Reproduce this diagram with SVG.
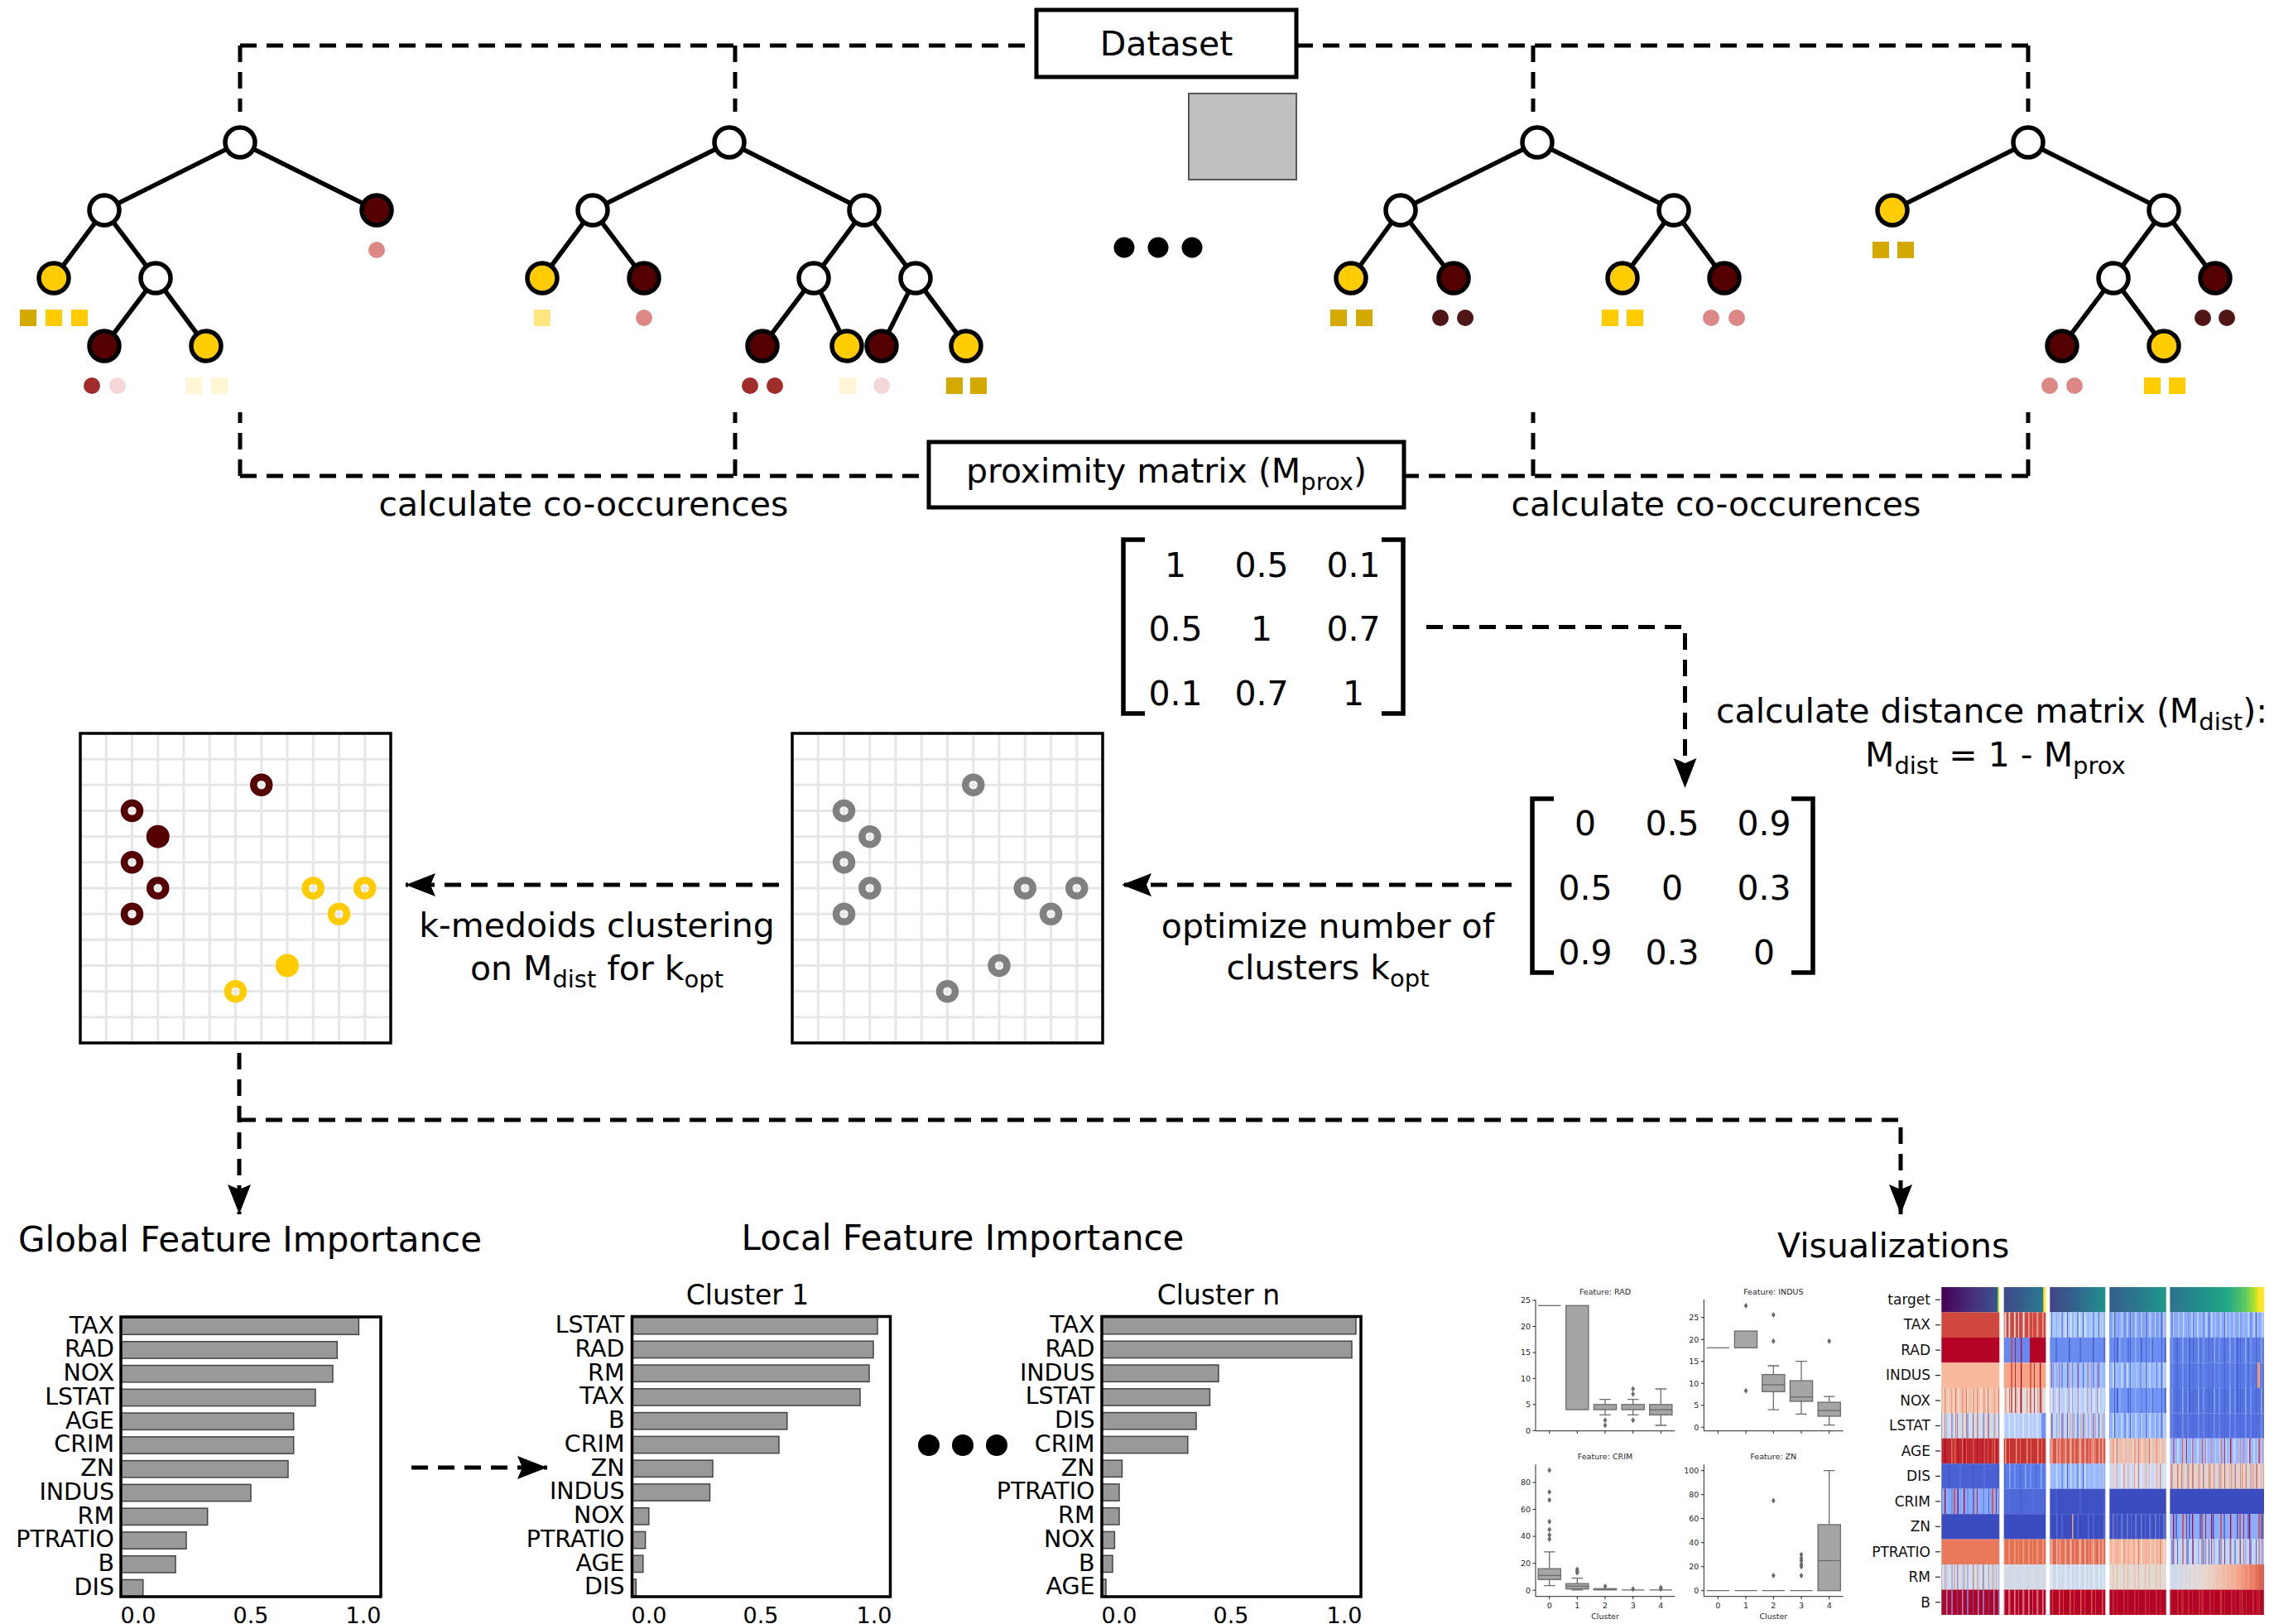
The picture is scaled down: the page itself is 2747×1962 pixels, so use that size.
<svg xmlns="http://www.w3.org/2000/svg" width="2747" height="1962" viewBox="0 0 2747 1962">
<style>
text{font-family:"DejaVu Sans",Verdana,sans-serif;fill:#000}
.big{font-size:41px}
.ttl{font-size:42px}
.mid{text-anchor:middle}
.dash{fill:none;stroke:#000;stroke-width:5;stroke-dasharray:20 12}
.edge{stroke:#000;stroke-width:5.5}
.nw{fill:#fff;stroke:#000;stroke-width:5.5}
.ny{fill:#FFCC00;stroke:#000;stroke-width:5.5}
.nd{fill:#550000;stroke:#000;stroke-width:5.5}
.box{fill:#fff;stroke:#000;stroke-width:5}
.brk{fill:none;stroke:#000;stroke-width:5.5}
.grid{stroke:#E6E6E6;stroke-width:3}
.frame{fill:none;stroke:#000;stroke-width:3.5}
.rd{fill:none;stroke:#550000;stroke-width:8.5}
.ry{fill:none;stroke:#FFCC00;stroke-width:8.5}
.rg{fill:none;stroke:#808080;stroke-width:8.5}
.bar{fill:#999;stroke:#444;stroke-width:1.5}
.bl{font-size:28.5px;text-anchor:end}
.tk{font-size:27px;text-anchor:middle}
.ct{font-size:33px;text-anchor:middle}
.bp{fill:#A5A5A5;stroke:#6B6B6B;stroke-width:1.3}
.bw{fill:none;stroke:#6B6B6B;stroke-width:1.3}
.sp{fill:none;stroke:#262626;stroke-width:1}
.sy{font-size:9.5px;fill:#262626;text-anchor:end}
.sx{font-size:9.5px;fill:#262626;text-anchor:middle}
.hl{font-size:17px;text-anchor:end;fill:#111}
.ht{stroke:#222;stroke-width:1.2}
.dot{fill:#000}
</style>
<defs>
<marker id="ah" markerUnits="userSpaceOnUse" markerWidth="40" markerHeight="32" viewBox="0 -16 40 32" refX="36" refY="0" orient="auto">
<path d="M0,-14 L36,0 L0,14 L6,0 Z" fill="#000"/>
</marker>
<path id="dia" d="M0,-3.5 L2.4,0 L0,3.5 L-2.4,0 Z" fill="#6B6B6B"/>
<pattern id="pL" width="17" height="40" patternUnits="userSpaceOnUse"><rect x="2" width="1.6" height="40" fill="#fff" fill-opacity=".5"/><rect x="7" width="1" height="40" fill="#fff" fill-opacity=".35"/><rect x="12" width="2.4" height="40" fill="#fff" fill-opacity=".4"/></pattern>
<pattern id="pR" width="23" height="40" patternUnits="userSpaceOnUse"><rect x="3" width="1.3" height="40" fill="#B40426"/><rect x="14" width="2" height="40" fill="#D24B40" fill-opacity=".85"/><rect x="19" width=".8" height="40" fill="#B40426"/></pattern>
<pattern id="pB" width="19" height="40" patternUnits="userSpaceOnUse"><rect x="1" width="2" height="40" fill="#6F92F3"/><rect x="8" width="1" height="40" fill="#4A63D3"/><rect x="14" width="1.5" height="40" fill="#8DB0FE"/></pattern>
<pattern id="pS" width="13" height="40" patternUnits="userSpaceOnUse"><rect x="4" width="1.5" height="40" fill="#F4987A"/><rect x="9" width="1" height="40" fill="#E7745B"/></pattern>
<pattern id="pG" width="11" height="40" patternUnits="userSpaceOnUse"><rect x="2" width="1.5" height="40" fill="#DDDCDC"/><rect x="7" width="1" height="40" fill="#C5D6F2"/></pattern>
<pattern id="pD" width="29" height="40" patternUnits="userSpaceOnUse"><rect x="5" width="1.5" height="40" fill="#4358CB"/><rect x="18" width="2" height="40" fill="#5470DE"/></pattern>
<linearGradient id="t1"><stop offset="0" stop-color="#440154"/><stop offset=".5" stop-color="#472C7A"/><stop offset=".95" stop-color="#3B528B"/><stop offset=".97" stop-color="#21918C"/><stop offset=".985" stop-color="#FDE725"/><stop offset="1" stop-color="#FDE725"/></linearGradient>
<linearGradient id="t2"><stop offset="0" stop-color="#3F4889"/><stop offset=".6" stop-color="#31688E"/><stop offset=".93" stop-color="#2A788E"/><stop offset=".95" stop-color="#FDE725"/><stop offset="1" stop-color="#FDE725"/></linearGradient>
<linearGradient id="t3"><stop offset="0" stop-color="#414487"/><stop offset=".6" stop-color="#2E6F8E"/><stop offset="1" stop-color="#21918C"/></linearGradient>
<linearGradient id="t4"><stop offset="0" stop-color="#355F8D"/><stop offset=".6" stop-color="#287D8E"/><stop offset="1" stop-color="#1F9A8A"/></linearGradient>
<linearGradient id="t5"><stop offset="0" stop-color="#2C728E"/><stop offset=".35" stop-color="#21918C"/><stop offset=".62" stop-color="#22A884"/><stop offset=".8" stop-color="#5EC962"/><stop offset=".9" stop-color="#B5DE2B"/><stop offset=".95" stop-color="#FDE725"/><stop offset="1" stop-color="#FDE725"/></linearGradient>
<linearGradient id="rm5"><stop offset="0" stop-color="#CBD8EE"/><stop offset=".35" stop-color="#E5D8D1"/><stop offset=".7" stop-color="#F4A98D"/><stop offset=".9" stop-color="#E8765C"/><stop offset="1" stop-color="#D55042"/></linearGradient>
</defs>
<rect width="2747" height="1962" fill="#fff"/>

<g id="connectors">
<path class="dash" d="M290,55 H1252"/>
<path class="dash" d="M290,55 V135"/>
<path class="dash" d="M888,55 V135"/>
<path class="dash" d="M2450,55 H1566"/>
<path class="dash" d="M2450,55 V135"/>
<path class="dash" d="M1852,55 V135"/>
<path class="dash" d="M290,575 H1122"/>
<path class="dash" d="M290,575 V498"/>
<path class="dash" d="M888,575 V498"/>
<path class="dash" d="M2450,575 H1696"/>
<path class="dash" d="M2450,575 V498"/>
<path class="dash" d="M1852,575 V498"/>
<path class="dash" d="M1723,757.5 H2035.5 V952" marker-end="url(#ah)"/>
<path class="dash" d="M1826,1069 H1355" marker-end="url(#ah)"/>
<path class="dash" d="M941,1069 H490" marker-end="url(#ah)"/>
<path class="dash" d="M289,1272 V1467" marker-end="url(#ah)"/>
<path class="dash" d="M289,1353 H2296 V1467" marker-end="url(#ah)"/>
<path class="dash" d="M497,1773 H661" marker-end="url(#ah)"/>
</g>

<g id="dataset">
<rect class="box" x="1252" y="12" width="314" height="81"/>
<text class="big mid" x="1409" y="67">Dataset</text>
<rect x="1436" y="113" width="130" height="104" fill="#C0C0C0" stroke="#555" stroke-width="2"/>
</g>

<g id="tree1">
<line class="edge" x1="290" y1="172" x2="126" y2="254"/>
<line class="edge" x1="290" y1="172" x2="455" y2="254"/>
<line class="edge" x1="126" y1="254" x2="65" y2="336"/>
<line class="edge" x1="126" y1="254" x2="188" y2="336"/>
<line class="edge" x1="188" y1="336" x2="126" y2="418"/>
<line class="edge" x1="188" y1="336" x2="249" y2="418"/>
<circle class="nw" cx="290" cy="172" r="18"/>
<circle class="nw" cx="126" cy="254" r="18"/>
<circle class="nd" cx="455" cy="254" r="18"/>
<circle class="ny" cx="65" cy="336" r="18"/>
<circle class="nw" cx="188" cy="336" r="18"/>
<circle class="nd" cx="126" cy="418" r="18"/>
<circle class="ny" cx="249" cy="418" r="18"/>
<circle cx="455" cy="302" r="10" fill="#DE8787"/>
<rect x="24" y="374" width="20" height="20" fill="#D4AA00"/>
<rect x="55" y="374" width="20" height="20" fill="#FFCC00"/>
<rect x="86" y="374" width="20" height="20" fill="#FFCC00"/>
<circle cx="111" cy="466" r="10" fill="#A02C2C"/>
<circle cx="142" cy="466" r="10" fill="#F4D7D7"/>
<rect x="224" y="456" width="20" height="20" fill="#FFF6D5"/>
<rect x="255" y="456" width="20" height="20" fill="#FFF6D5"/>
</g>

<g id="tree2">
<line class="edge" x1="881" y1="172" x2="716" y2="254"/>
<line class="edge" x1="881" y1="172" x2="1044" y2="254"/>
<line class="edge" x1="716" y1="254" x2="655" y2="336"/>
<line class="edge" x1="716" y1="254" x2="778" y2="336"/>
<line class="edge" x1="1044" y1="254" x2="983" y2="336"/>
<line class="edge" x1="1044" y1="254" x2="1106" y2="336"/>
<line class="edge" x1="983" y1="336" x2="921" y2="418"/>
<line class="edge" x1="983" y1="336" x2="1023" y2="418"/>
<line class="edge" x1="1106" y1="336" x2="1065" y2="418"/>
<line class="edge" x1="1106" y1="336" x2="1167" y2="418"/>
<circle class="nw" cx="881" cy="172" r="18"/>
<circle class="nw" cx="716" cy="254" r="18"/>
<circle class="nw" cx="1044" cy="254" r="18"/>
<circle class="ny" cx="655" cy="336" r="18"/>
<circle class="nd" cx="778" cy="336" r="18"/>
<circle class="nw" cx="983" cy="336" r="18"/>
<circle class="nw" cx="1106" cy="336" r="18"/>
<circle class="nd" cx="921" cy="418" r="18"/>
<circle class="ny" cx="1023" cy="418" r="18"/>
<circle class="nd" cx="1065" cy="418" r="18"/>
<circle class="ny" cx="1167" cy="418" r="18"/>
<rect x="645" y="374" width="20" height="20" fill="#FFE680"/>
<circle cx="778" cy="384" r="10" fill="#DE8787"/>
<circle cx="906" cy="466" r="10" fill="#A02C2C"/>
<circle cx="936" cy="466" r="10" fill="#A02C2C"/>
<rect x="1014" y="456" width="20" height="20" fill="#FFF6D5"/>
<circle cx="1065" cy="466" r="10" fill="#F4D7D7"/>
<rect x="1143" y="456" width="20" height="20" fill="#D4AA00"/>
<rect x="1172" y="456" width="20" height="20" fill="#D4AA00"/>
</g>

<g id="ellipsis-top">
<circle class="dot" cx="1358" cy="299" r="12.5"/>
<circle class="dot" cx="1399" cy="299" r="12.5"/>
<circle class="dot" cx="1440" cy="299" r="12.5"/>
</g>

<g id="tree3">
<line class="edge" x1="1857" y1="172" x2="1692" y2="254"/>
<line class="edge" x1="1857" y1="172" x2="2022" y2="254"/>
<line class="edge" x1="1692" y1="254" x2="1632" y2="336"/>
<line class="edge" x1="1692" y1="254" x2="1756" y2="336"/>
<line class="edge" x1="2022" y1="254" x2="1960" y2="336"/>
<line class="edge" x1="2022" y1="254" x2="2083" y2="336"/>
<circle class="nw" cx="1857" cy="172" r="18"/>
<circle class="nw" cx="1692" cy="254" r="18"/>
<circle class="nw" cx="2022" cy="254" r="18"/>
<circle class="ny" cx="1632" cy="336" r="18"/>
<circle class="nd" cx="1756" cy="336" r="18"/>
<circle class="ny" cx="1960" cy="336" r="18"/>
<circle class="nd" cx="2083" cy="336" r="18"/>
<rect x="1607" y="374" width="20" height="20" fill="#D4AA00"/>
<rect x="1638" y="374" width="20" height="20" fill="#D4AA00"/>
<circle cx="1740" cy="384" r="10" fill="#501616"/>
<circle cx="1770" cy="384" r="10" fill="#501616"/>
<rect x="1935" y="374" width="20" height="20" fill="#FFCC00"/>
<rect x="1965" y="374" width="20" height="20" fill="#FFCC00"/>
<circle cx="2067" cy="384" r="10" fill="#DE8787"/>
<circle cx="2098" cy="384" r="10" fill="#DE8787"/>
</g>

<g id="tree4">
<line class="edge" x1="2450" y1="172" x2="2286" y2="254"/>
<line class="edge" x1="2450" y1="172" x2="2614" y2="254"/>
<line class="edge" x1="2614" y1="254" x2="2553" y2="336"/>
<line class="edge" x1="2614" y1="254" x2="2676" y2="336"/>
<line class="edge" x1="2553" y1="336" x2="2491" y2="418"/>
<line class="edge" x1="2553" y1="336" x2="2614" y2="418"/>
<circle class="nw" cx="2450" cy="172" r="18"/>
<circle class="ny" cx="2286" cy="254" r="18"/>
<circle class="nw" cx="2614" cy="254" r="18"/>
<circle class="nw" cx="2553" cy="336" r="18"/>
<circle class="nd" cx="2676" cy="336" r="18"/>
<circle class="nd" cx="2491" cy="418" r="18"/>
<circle class="ny" cx="2614" cy="418" r="18"/>
<rect x="2262" y="292" width="20" height="20" fill="#D4AA00"/>
<rect x="2292" y="292" width="20" height="20" fill="#D4AA00"/>
<circle cx="2661" cy="384" r="10" fill="#501616"/>
<circle cx="2690" cy="384" r="10" fill="#501616"/>
<circle cx="2476" cy="466" r="10" fill="#DE8787"/>
<circle cx="2506" cy="466" r="10" fill="#DE8787"/>
<rect x="2590" y="456" width="20" height="20" fill="#FFCC00"/>
<rect x="2620" y="456" width="20" height="20" fill="#FFCC00"/>
</g>

<g id="labels-cooc">
<text class="big mid" x="705" y="623">calculate co-occurences</text>
<text class="big mid" x="2073" y="623">calculate co-occurences</text>
</g>

<g id="proximity">
<rect class="box" x="1122" y="534" width="574" height="79"/>
<text class="big mid" x="1409" y="583">proximity matrix (M<tspan font-size="29" dy="9">prox</tspan><tspan dy="-9">)</tspan></text>
</g>

<g id="matrix-prox">
<path class="brk" d="M1383,652 H1357 V862 H1383"/>
<path class="brk" d="M1669,652 H1695 V862 H1669"/>
<text class="big mid" x="1420" y="697">1</text>
<text class="big mid" x="1524" y="697">0.5</text>
<text class="big mid" x="1635" y="697">0.1</text>
<text class="big mid" x="1420" y="774">0.5</text>
<text class="big mid" x="1524" y="774">1</text>
<text class="big mid" x="1635" y="774">0.7</text>
<text class="big mid" x="1420" y="852">0.1</text>
<text class="big mid" x="1524" y="852">0.7</text>
<text class="big mid" x="1635" y="852">1</text>
</g>

<g id="distance-label">
<text class="big" x="2073" y="873">calculate distance matrix (M<tspan font-size="29" dy="9">dist</tspan><tspan dy="-9">):</tspan></text>
<text class="big" x="2253" y="926">M<tspan font-size="29" dy="9">dist</tspan><tspan dy="-9"> = 1 - M</tspan><tspan font-size="29" dy="9">prox</tspan></text>
</g>

<g id="matrix-dist">
<path class="brk" d="M1877,965 H1851 V1175 H1877"/>
<path class="brk" d="M2164,965 H2190 V1175 H2164"/>
<text class="big mid" x="1915" y="1009">0</text>
<text class="big mid" x="2020" y="1009">0.5</text>
<text class="big mid" x="2131" y="1009">0.9</text>
<text class="big mid" x="1915" y="1087">0.5</text>
<text class="big mid" x="2020" y="1087">0</text>
<text class="big mid" x="2131" y="1087">0.3</text>
<text class="big mid" x="1915" y="1165">0.9</text>
<text class="big mid" x="2020" y="1165">0.3</text>
<text class="big mid" x="2131" y="1165">0</text>
</g>

<g id="label-optimize">
<text class="big mid" x="1604" y="1133">optimize number of</text>
<text class="big mid" x="1604" y="1183">clusters k<tspan font-size="29" dy="9">opt</tspan></text>
</g>

<g id="label-kmedoids">
<text class="big mid" x="721" y="1132">k-medoids clustering</text>
<text class="big mid" x="721" y="1184">on M<tspan font-size="29" dy="9">dist</tspan><tspan dy="-9"> for k</tspan><tspan font-size="29" dy="9">opt</tspan></text>
</g>

<g id="scatter-clustered">
<g class="grid">
<path d="M128.25,886V1260M159.5,886V1260M190.75,886V1260M222,886V1260M253.25,886V1260M284.5,886V1260M315.75,886V1260M347,886V1260M378.25,886V1260M409.5,886V1260M440.75,886V1260"/>
<path d="M97,917.2H472M97,948.3H472M97,979.5H472M97,1010.7H472M97,1041.8H472M97,1073H472M97,1104.2H472M97,1135.3H472M97,1166.5H472M97,1197.7H472M97,1228.8H472"/>
</g>
<rect class="frame" x="97" y="886" width="375" height="374"/>
<circle class="rd" cx="315.75" cy="948.3" r="9.5"/>
<circle class="rd" cx="159.5" cy="979.5" r="9.5"/>
<circle cx="190.75" cy="1010.7" r="14" fill="#550000"/>
<circle class="rd" cx="159.5" cy="1041.8" r="9.5"/>
<circle class="rd" cx="190.75" cy="1073" r="9.5"/>
<circle class="rd" cx="159.5" cy="1104.2" r="9.5"/>
<circle class="ry" cx="378.25" cy="1073" r="9.5"/>
<circle class="ry" cx="440.75" cy="1073" r="9.5"/>
<circle class="ry" cx="409.5" cy="1104.2" r="9.5"/>
<circle cx="347" cy="1166.5" r="14" fill="#FFCC00"/>
<circle class="ry" cx="284.5" cy="1197.7" r="9.5"/>
</g>

<g id="scatter-raw">
<g class="grid">
<path d="M988.25,886V1260M1019.5,886V1260M1050.75,886V1260M1082,886V1260M1113.25,886V1260M1144.5,886V1260M1175.75,886V1260M1207,886V1260M1238.25,886V1260M1269.5,886V1260M1300.75,886V1260"/>
<path d="M957,917.2H1332M957,948.3H1332M957,979.5H1332M957,1010.7H1332M957,1041.8H1332M957,1073H1332M957,1104.2H1332M957,1135.3H1332M957,1166.5H1332M957,1197.7H1332M957,1228.8H1332"/>
</g>
<rect class="frame" x="957" y="886" width="375" height="374"/>
<circle class="rg" cx="1175.75" cy="948.3" r="9.5"/>
<circle class="rg" cx="1019.5" cy="979.5" r="9.5"/>
<circle class="rg" cx="1050.75" cy="1010.7" r="9.5"/>
<circle class="rg" cx="1019.5" cy="1041.8" r="9.5"/>
<circle class="rg" cx="1050.75" cy="1073" r="9.5"/>
<circle class="rg" cx="1019.5" cy="1104.2" r="9.5"/>
<circle class="rg" cx="1238.25" cy="1073" r="9.5"/>
<circle class="rg" cx="1300.75" cy="1073" r="9.5"/>
<circle class="rg" cx="1269.5" cy="1104.2" r="9.5"/>
<circle class="rg" cx="1207" cy="1166.5" r="9.5"/>
<circle class="rg" cx="1144.5" cy="1197.7" r="9.5"/>
</g>

<g id="titles">
<text class="ttl mid" x="302" y="1512">Global Feature Importance</text>
<text class="ttl mid" x="1163" y="1510">Local Feature Importance</text>
<text class="big" x="2147" y="1519">Visualizations</text>
</g>

<g id="global-fi" transform="translate(146,1592)">
<rect class="bar" x="0" y="0" width="287.4" height="20.3"/>
<rect class="bar" x="0" y="28.77" width="261.3" height="20.3"/>
<rect class="bar" x="0" y="57.54" width="256" height="20.3"/>
<rect class="bar" x="0" y="86.31" width="235" height="20.3"/>
<rect class="bar" x="0" y="115.08" width="208.7" height="20.3"/>
<rect class="bar" x="0" y="143.85" width="208.7" height="20.3"/>
<rect class="bar" x="0" y="172.62" width="202" height="20.3"/>
<rect class="bar" x="0" y="201.39" width="157" height="20.3"/>
<rect class="bar" x="0" y="230.16" width="104.7" height="20.3"/>
<rect class="bar" x="0" y="258.93" width="79" height="20.3"/>
<rect class="bar" x="0" y="287.7" width="66" height="20.3"/>
<rect class="bar" x="0" y="316.47" width="26.8" height="20.3"/>
<rect class="frame" x="0" y="-1" width="314" height="338"/>
<text class="bl" x="-8" y="18.5">TAX</text>
<text class="bl" x="-8" y="47.27">RAD</text>
<text class="bl" x="-8" y="76.04">NOX</text>
<text class="bl" x="-8" y="104.81">LSTAT</text>
<text class="bl" x="-8" y="133.58">AGE</text>
<text class="bl" x="-8" y="162.35">CRIM</text>
<text class="bl" x="-8" y="191.12">ZN</text>
<text class="bl" x="-8" y="219.89">INDUS</text>
<text class="bl" x="-8" y="248.66">RM</text>
<text class="bl" x="-8" y="277.43">PTRATIO</text>
<text class="bl" x="-8" y="306.2">B</text>
<text class="bl" x="-8" y="334.97">DIS</text>
<text class="tk" x="21" y="369">0.0</text>
<text class="tk" x="157" y="369">0.5</text>
<text class="tk" x="293" y="369">1.0</text>
</g>

<g id="cluster1-fi">
<text class="ct" x="903" y="1576">Cluster 1</text>
<g transform="translate(763.5,1591.5)">
<rect class="bar" x="0" y="0" width="296.5" height="20.3"/>
<rect class="bar" x="0" y="28.77" width="291.5" height="20.3"/>
<rect class="bar" x="0" y="57.54" width="286.5" height="20.3"/>
<rect class="bar" x="0" y="86.31" width="275.5" height="20.3"/>
<rect class="bar" x="0" y="115.08" width="187.3" height="20.3"/>
<rect class="bar" x="0" y="143.85" width="177.5" height="20.3"/>
<rect class="bar" x="0" y="172.62" width="97.5" height="20.3"/>
<rect class="bar" x="0" y="201.39" width="94" height="20.3"/>
<rect class="bar" x="0" y="230.16" width="20.3" height="20.3"/>
<rect class="bar" x="0" y="258.93" width="16.1" height="20.3"/>
<rect class="bar" x="0" y="287.7" width="13.3" height="20.3"/>
<rect class="bar" x="0" y="316.47" width="4.9" height="20.3"/>
<rect class="frame" x="0" y="-1" width="312" height="338.5"/>
<text class="bl" x="-9" y="18.5">LSTAT</text>
<text class="bl" x="-9" y="47.27">RAD</text>
<text class="bl" x="-9" y="76.04">RM</text>
<text class="bl" x="-9" y="104.81">TAX</text>
<text class="bl" x="-9" y="133.58">B</text>
<text class="bl" x="-9" y="162.35">CRIM</text>
<text class="bl" x="-9" y="191.12">ZN</text>
<text class="bl" x="-9" y="219.89">INDUS</text>
<text class="bl" x="-9" y="248.66">NOX</text>
<text class="bl" x="-9" y="277.43">PTRATIO</text>
<text class="bl" x="-9" y="306.2">AGE</text>
<text class="bl" x="-9" y="334.97">DIS</text>
<text class="tk" x="20.5" y="369.5">0.0</text>
<text class="tk" x="155.5" y="369.5">0.5</text>
<text class="tk" x="292.5" y="369.5">1.0</text>
</g>
</g>

<g id="ellipsis-bottom">
<circle class="dot" cx="1122" cy="1746" r="13"/>
<circle class="dot" cx="1163" cy="1746" r="13"/>
<circle class="dot" cx="1204" cy="1746" r="13"/>
</g>

<g id="clustern-fi">
<text class="ct" x="1472" y="1576">Cluster n</text>
<g transform="translate(1331,1591.5)">
<rect class="bar" x="0" y="0" width="307" height="20.3"/>
<rect class="bar" x="0" y="28.77" width="302" height="20.3"/>
<rect class="bar" x="0" y="57.54" width="141" height="20.3"/>
<rect class="bar" x="0" y="86.31" width="130.5" height="20.3"/>
<rect class="bar" x="0" y="115.08" width="114" height="20.3"/>
<rect class="bar" x="0" y="143.85" width="103.8" height="20.3"/>
<rect class="bar" x="0" y="172.62" width="24.5" height="20.3"/>
<rect class="bar" x="0" y="201.39" width="21" height="20.3"/>
<rect class="bar" x="0" y="230.16" width="21" height="20.3"/>
<rect class="bar" x="0" y="258.93" width="15.4" height="20.3"/>
<rect class="bar" x="0" y="287.7" width="13" height="20.3"/>
<rect class="bar" x="0" y="316.47" width="5" height="20.3"/>
<rect class="frame" x="0" y="-1" width="313" height="338.5"/>
<text class="bl" x="-8.5" y="18.5">TAX</text>
<text class="bl" x="-8.5" y="47.27">RAD</text>
<text class="bl" x="-8.5" y="76.04">INDUS</text>
<text class="bl" x="-8.5" y="104.81">LSTAT</text>
<text class="bl" x="-8.5" y="133.58">DIS</text>
<text class="bl" x="-8.5" y="162.35">CRIM</text>
<text class="bl" x="-8.5" y="191.12">ZN</text>
<text class="bl" x="-8.5" y="219.89">PTRATIO</text>
<text class="bl" x="-8.5" y="248.66">RM</text>
<text class="bl" x="-8.5" y="277.43">NOX</text>
<text class="bl" x="-8.5" y="306.2">B</text>
<text class="bl" x="-8.5" y="334.97">AGE</text>
<text class="tk" x="21" y="369.5">0.0</text>
<text class="tk" x="156" y="369.5">0.5</text>
<text class="tk" x="293" y="369.5">1.0</text>
</g>
</g>

<g id="boxplots">
<text class="sx" x="1939" y="1564">Feature: RAD</text>
<path class="sp" d="M1855,1570V1728.7H2023.3"/>
<path class="sp" d="M1851.5,1728.3H1855M1851.5,1696.85H1855M1851.5,1665.4H1855M1851.5,1634H1855M1851.5,1602.5H1855M1851.5,1571H1855M1871.7,1728.7V1732.2M1905.3,1728.7V1732.2M1939,1728.7V1732.2M1972.7,1728.7V1732.2M2006.3,1728.7V1732.2"/>
<text class="sy" x="1849" y="1731.6">0</text>
<text class="sy" x="1849" y="1700.2">5</text>
<text class="sy" x="1849" y="1668.7">10</text>
<text class="sy" x="1849" y="1637.3">15</text>
<text class="sy" x="1849" y="1605.8">20</text>
<text class="sy" x="1849" y="1574.3">25</text>
<path class="bw" d="M1858.1,1577.3H1885.3"/>
<rect class="bp" x="1891.7" y="1577.3" width="27.2" height="125.8"/>
<path class="bw" d="M1939,1690.56V1709.4M1932.2,1690.56H1945.8M1932.2,1709.4H1945.8"/>
<rect class="bp" x="1925.4" y="1696.85" width="27.2" height="6.25"/>
<use href="#dia" x="1939" y="1715.7"/><use href="#dia" x="1939" y="1722"/>
<path class="bw" d="M1972.7,1690.56V1709.4M1965.9,1690.56H1979.5M1965.9,1709.4H1979.5"/>
<rect class="bp" x="1959.1" y="1696.85" width="27.2" height="6.25"/>
<use href="#dia" x="1972.7" y="1715.7"/><use href="#dia" x="1972.7" y="1684.3"/><use href="#dia" x="1972.7" y="1678"/>
<path class="bw" d="M2006.3,1678V1722M1999.5,1678H2013.1M1999.5,1722H2013.1"/>
<rect class="bp" x="1992.7" y="1696.85" width="27.2" height="12.55"/>
<path class="bw" d="M1992.7,1703.1H2019.9"/>
<text class="sx" x="2142.3" y="1564">Feature: INDUS</text>
<path class="sp" d="M2058.3,1570V1728.7H2226.7"/>
<path class="sp" d="M2054.8,1724.3H2058.3M2054.8,1697.8H2058.3M2054.8,1671.25H2058.3M2054.8,1644.7H2058.3M2054.8,1618.2H2058.3M2054.8,1591.7H2058.3M2075.3,1728.7V1732.2M2109,1728.7V1732.2M2142.3,1728.7V1732.2M2176,1728.7V1732.2M2209.7,1728.7V1732.2"/>
<text class="sy" x="2052.3" y="1727.6">0</text>
<text class="sy" x="2052.3" y="1701.1">5</text>
<text class="sy" x="2052.3" y="1674.6">10</text>
<text class="sy" x="2052.3" y="1648">15</text>
<text class="sy" x="2052.3" y="1621.5">20</text>
<text class="sy" x="2052.3" y="1595">25</text>
<path class="bw" d="M2061.7,1628.3H2088.9"/>
<rect class="bp" x="2095.4" y="1608.1" width="27.2" height="20.2"/>
<use href="#dia" x="2109" y="1577.4"/><use href="#dia" x="2109" y="1680.3"/>
<path class="bw" d="M2142.3,1650V1703.1M2135.5,1650H2149.1M2135.5,1703.1H2149.1"/>
<rect class="bp" x="2128.7" y="1660.6" width="27.2" height="20.7"/>
<path class="bw" d="M2128.7,1672.9H2155.9"/>
<use href="#dia" x="2142.3" y="1620.3"/><use href="#dia" x="2142.3" y="1588.5"/>
<path class="bw" d="M2176,1644.7V1708.4M2169.2,1644.7H2182.8M2169.2,1708.4H2182.8"/>
<rect class="bp" x="2162.4" y="1668.1" width="27.2" height="24.9"/>
<path class="bw" d="M2162.4,1687.7H2189.6"/>
<path class="bw" d="M2209.7,1687.2V1721.6M2202.9,1687.2H2216.5M2202.9,1721.6H2216.5"/>
<rect class="bp" x="2196.1" y="1694.1" width="27.2" height="16.9"/>
<path class="bw" d="M2196.1,1704.1H2223.3"/>
<use href="#dia" x="2209.7" y="1620.3"/>
<text class="sx" x="1939" y="1763">Feature: CRIM</text>
<path class="sp" d="M1855,1769.3V1928.7H2023.3"/>
<path class="sp" d="M1851.5,1921.3H1855M1851.5,1888.7H1855M1851.5,1856.1H1855M1851.5,1823.6H1855M1851.5,1791H1855M1871.7,1928.7V1932.2M1905.3,1928.7V1932.2M1939,1928.7V1932.2M1972.7,1928.7V1932.2M2006.3,1928.7V1932.2"/>
<text class="sy" x="1849" y="1924.6">0</text>
<text class="sy" x="1849" y="1892">20</text>
<text class="sy" x="1849" y="1859.4">40</text>
<text class="sy" x="1849" y="1826.9">60</text>
<text class="sy" x="1849" y="1794.3">80</text>
<path class="bw" d="M1871.7,1874.9V1915.6M1864.9,1874.9H1878.5M1864.9,1915.6H1878.5"/>
<rect class="bp" x="1858.1" y="1895.2" width="27.2" height="13.1"/>
<path class="bw" d="M1858.1,1903.4H1885.3"/>
<use href="#dia" x="1871.7" y="1859.4"/><use href="#dia" x="1871.7" y="1854.5"/><use href="#dia" x="1871.7" y="1848"/><use href="#dia" x="1871.7" y="1838.2"/><use href="#dia" x="1871.7" y="1812.2"/><use href="#dia" x="1871.7" y="1802.4"/><use href="#dia" x="1871.7" y="1776.3"/>
<path class="bw" d="M1905.3,1906.6V1920.8M1898.5,1906.6H1912.1M1898.5,1920.8H1912.1"/>
<rect class="bp" x="1891.7" y="1913.2" width="27.2" height="6.5"/>
<path class="bw" d="M1891.7,1916.4H1918.9"/>
<use href="#dia" x="1905.3" y="1900.1"/><use href="#dia" x="1905.3" y="1898.5"/><use href="#dia" x="1905.3" y="1896.1"/>
<rect class="bp" x="1925.4" y="1919.3" width="27.2" height="1.5"/>
<use href="#dia" x="1939" y="1916.4"/>
<path class="bw" d="M1959.1,1920.9H1986.3M1992.7,1920.9H2019.9"/>
<use href="#dia" x="1972.7" y="1919.7"/><use href="#dia" x="2006.3" y="1919.7"/><use href="#dia" x="2006.3" y="1918"/>
<text class="sx" x="1871.7" y="1943">0</text>
<text class="sx" x="1905.3" y="1943">1</text>
<text class="sx" x="1939" y="1943">2</text>
<text class="sx" x="1972.7" y="1943">3</text>
<text class="sx" x="2006.3" y="1943">4</text>
<text class="sx" x="1939" y="1956">Cluster</text>
<text class="sx" x="2142.3" y="1763">Feature: ZN</text>
<path class="sp" d="M2058.3,1769.3V1928.7H2226.7"/>
<path class="sp" d="M2054.8,1921.7H2058.3M2054.8,1892.7H2058.3M2054.8,1863.7H2058.3M2054.8,1834.7H2058.3M2054.8,1805.7H2058.3M2054.8,1776.7H2058.3M2075.3,1928.7V1932.2M2109,1928.7V1932.2M2142.3,1928.7V1932.2M2176,1928.7V1932.2M2209.7,1928.7V1932.2"/>
<text class="sy" x="2052.3" y="1925">0</text>
<text class="sy" x="2052.3" y="1896">20</text>
<text class="sy" x="2052.3" y="1867">40</text>
<text class="sy" x="2052.3" y="1838">60</text>
<text class="sy" x="2052.3" y="1809">80</text>
<text class="sy" x="2052.3" y="1780">100</text>
<path class="bw" d="M2061.7,1921.7H2088.9M2095.4,1921.7H2122.6M2128.7,1921.7H2155.9M2162.4,1921.7H2189.6"/>
<use href="#dia" x="2142.3" y="1812.95"/><use href="#dia" x="2142.3" y="1903.6"/>
<use href="#dia" x="2176" y="1903.6"/><use href="#dia" x="2176" y="1892.7"/><use href="#dia" x="2176" y="1889.8"/><use href="#dia" x="2176" y="1885.45"/><use href="#dia" x="2176" y="1882.55"/><use href="#dia" x="2176" y="1878.2"/>
<path class="bw" d="M2209.7,1776.7V1841.95M2202.9,1776.7H2216.5"/>
<rect class="bp" x="2196.1" y="1841.95" width="27.2" height="79.75"/>
<path class="bw" d="M2196.1,1885.45H2223.3"/>
<text class="sx" x="2075.3" y="1943">0</text>
<text class="sx" x="2109" y="1943">1</text>
<text class="sx" x="2142.3" y="1943">2</text>
<text class="sx" x="2176" y="1943">3</text>
<text class="sx" x="2209.7" y="1943">4</text>
<text class="sx" x="2142.3" y="1956">Cluster</text>
</g>

<g id="heatmap">
<g transform="translate(0,1555)">
<rect x="2345.3" width="70" height="30.5" fill="url(#t1)"/>
<rect x="2420.7" width="50.6" height="30.5" fill="url(#t2)"/>
<rect x="2476.3" width="67" height="30.5" fill="url(#t3)"/>
<rect x="2548.3" width="68.4" height="30.5" fill="url(#t4)"/>
<rect x="2621.3" width="113.7" height="30.5" fill="url(#t5)"/>
<line class="ht" x1="2338" x2="2344" y1="15.2" y2="15.2"/><text class="hl" x="2332" y="21">target</text>
</g>
<g transform="translate(0,1585.46)">
<rect x="2345.3" width="70" height="30.5" fill="#D0473D"/>
<rect x="2420.7" width="50.6" height="30.5" fill="#D0473D"/><rect x="2420.7" width="26" height="30.5" fill="url(#pG)"/><rect x="2420.7" width="50.6" height="30.5" fill="url(#pL)"/>
<rect x="2476.3" width="67" height="30.5" fill="#A9C6FD"/><rect x="2476.3" width="67" height="30.5" fill="url(#pL)"/><rect x="2476.3" width="67" height="30.5" fill="url(#pB)"/>
<rect x="2548.3" width="68.4" height="30.5" fill="#7FA2F9"/><rect x="2548.3" width="68.4" height="30.5" fill="url(#pB)"/><rect x="2548.3" width="68.4" height="30.5" fill="url(#pL)"/>
<rect x="2621.3" width="113.7" height="30.5" fill="#88AAFC"/><rect x="2621.3" width="113.7" height="30.5" fill="url(#pB)"/><rect x="2621.3" width="113.7" height="30.5" fill="url(#pL)"/>
<line class="ht" x1="2338" x2="2344" y1="15.2" y2="15.2"/><text class="hl" x="2332" y="21">TAX</text>
</g>
<g transform="translate(0,1615.92)">
<rect x="2345.3" width="70" height="30.5" fill="#B40426"/>
<rect x="2420.7" width="50.6" height="30.5" fill="#6788EE"/><rect x="2420.7" width="50.6" height="30.5" fill="url(#pR)"/><rect x="2452" width="19.3" height="30.5" fill="#B40426"/>
<rect x="2476.3" width="67" height="30.5" fill="#6A8BEF"/><rect x="2476.3" width="67" height="30.5" fill="url(#pD)"/>
<rect x="2548.3" width="68.4" height="30.5" fill="#6B8DF0"/><rect x="2548.3" width="68.4" height="30.5" fill="url(#pB)"/><rect x="2548.3" width="68.4" height="30.5" fill="url(#pD)"/>
<rect x="2621.3" width="113.7" height="30.5" fill="#5D7CE6"/><rect x="2621.3" width="113.7" height="30.5" fill="url(#pD)"/><rect x="2621.3" width="113.7" height="30.5" fill="url(#pB)"/>
<line class="ht" x1="2338" x2="2344" y1="15.2" y2="15.2"/><text class="hl" x="2332" y="21">RAD</text>
</g>
<g transform="translate(0,1646.38)">
<rect x="2345.3" width="70" height="30.5" fill="#F7B89C"/>
<rect x="2420.7" width="50.6" height="30.5" fill="#F5A486"/><rect x="2420.7" width="50.6" height="30.5" fill="url(#pR)"/>
<rect x="2476.3" width="67" height="30.5" fill="#A5C3FE"/><rect x="2476.3" width="67" height="30.5" fill="url(#pB)"/><rect x="2476.3" width="67" height="30.5" fill="url(#pR)" opacity=".4"/>
<rect x="2548.3" width="68.4" height="30.5" fill="#94B6FF"/><rect x="2548.3" width="68.4" height="30.5" fill="url(#pL)"/><rect x="2548.3" width="68.4" height="30.5" fill="url(#pB)"/>
<rect x="2621.3" width="113.7" height="30.5" fill="#5A78E4"/><rect x="2621.3" width="113.7" height="30.5" fill="url(#pD)"/><rect x="2621.3" width="113.7" height="30.5" fill="url(#pB)" opacity=".6"/><rect x="2727" width="3" height="30.5" fill="#F4987A"/>
<line class="ht" x1="2338" x2="2344" y1="15.2" y2="15.2"/><text class="hl" x="2332" y="21">INDUS</text>
</g>
<g transform="translate(0,1676.84)">
<rect x="2345.3" width="70" height="30.5" fill="#F3C1A9"/><rect x="2345.3" width="70" height="30.5" fill="url(#pL)"/><rect x="2345.3" width="70" height="30.5" fill="url(#pS)"/>
<rect x="2420.7" width="50.6" height="30.5" fill="#DCDDDD"/><rect x="2420.7" width="50.6" height="30.5" fill="url(#pR)"/><rect x="2420.7" width="50.6" height="30.5" fill="url(#pS)"/>
<rect x="2476.3" width="67" height="30.5" fill="#B7CFF9"/><rect x="2476.3" width="67" height="30.5" fill="url(#pL)"/><rect x="2476.3" width="67" height="30.5" fill="url(#pR)" opacity=".3"/>
<rect x="2548.3" width="68.4" height="30.5" fill="#7396F5"/><rect x="2548.3" width="68.4" height="30.5" fill="url(#pD)"/><rect x="2548.3" width="68.4" height="30.5" fill="url(#pB)"/>
<rect x="2621.3" width="113.7" height="30.5" fill="#5572DF"/><rect x="2621.3" width="113.7" height="30.5" fill="url(#pD)"/><rect x="2621.3" width="113.7" height="30.5" fill="url(#pB)"/>
<line class="ht" x1="2338" x2="2344" y1="15.2" y2="15.2"/><text class="hl" x="2332" y="21">NOX</text>
</g>
<g transform="translate(0,1707.3)">
<rect x="2345.3" width="70" height="30.5" fill="#D5DBE5"/><rect x="2345.3" width="70" height="30.5" fill="url(#pS)"/><rect x="2345.3" width="70" height="30.5" fill="url(#pB)" opacity=".7"/>
<rect x="2420.7" width="50.6" height="30.5" fill="#B5CDFA"/><rect x="2420.7" width="50.6" height="30.5" fill="url(#pL)"/><rect x="2466" width="5.3" height="30.5" fill="#6F92F3"/>
<rect x="2476.3" width="67" height="30.5" fill="#C2D5F4"/><rect x="2476.3" width="67" height="30.5" fill="url(#pS)" opacity=".7"/><rect x="2476.3" width="67" height="30.5" fill="url(#pB)"/>
<rect x="2548.3" width="68.4" height="30.5" fill="#8FB1FE"/><rect x="2548.3" width="68.4" height="30.5" fill="url(#pB)"/><rect x="2548.3" width="68.4" height="30.5" fill="url(#pL)"/>
<rect x="2621.3" width="113.7" height="30.5" fill="#5470DE"/><rect x="2621.3" width="113.7" height="30.5" fill="url(#pB)" opacity=".6"/>
<line class="ht" x1="2338" x2="2344" y1="15.2" y2="15.2"/><text class="hl" x="2332" y="21">LSTAT</text>
</g>
<g transform="translate(0,1737.76)">
<rect x="2345.3" width="70" height="30.5" fill="#C0282F"/><rect x="2345.3" width="70" height="30.5" fill="url(#pS)" opacity=".6"/><rect x="2345.3" width="70" height="30.5" fill="url(#pR)"/>
<rect x="2420.7" width="50.6" height="30.5" fill="#C53334"/><rect x="2420.7" width="50.6" height="30.5" fill="url(#pS)"/>
<rect x="2476.3" width="67" height="30.5" fill="#D6574A"/><rect x="2476.3" width="67" height="30.5" fill="url(#pS)"/><rect x="2476.3" width="67" height="30.5" fill="url(#pL)"/>
<rect x="2548.3" width="68.4" height="30.5" fill="#F0BCA5"/><rect x="2548.3" width="68.4" height="30.5" fill="url(#pS)"/><rect x="2548.3" width="68.4" height="30.5" fill="url(#pG)"/>
<rect x="2621.3" width="113.7" height="30.5" fill="#98B9FF"/><rect x="2621.3" width="113.7" height="30.5" fill="url(#pR)"/><rect x="2621.3" width="113.7" height="30.5" fill="url(#pL)"/>
<line class="ht" x1="2338" x2="2344" y1="15.2" y2="15.2"/><text class="hl" x="2332" y="21">AGE</text>
</g>
<g transform="translate(0,1768.22)">
<rect x="2345.3" width="70" height="30.5" fill="#4961D2"/><rect x="2345.3" width="70" height="30.5" fill="url(#pD)"/>
<rect x="2420.7" width="50.6" height="30.5" fill="#5B7AE5"/><rect x="2420.7" width="50.6" height="30.5" fill="url(#pB)"/>
<rect x="2476.3" width="67" height="30.5" fill="#98B8FE"/><rect x="2476.3" width="67" height="30.5" fill="url(#pB)"/><rect x="2476.3" width="67" height="30.5" fill="url(#pL)"/>
<rect x="2548.3" width="68.4" height="30.5" fill="#C9D7F0"/><rect x="2548.3" width="68.4" height="30.5" fill="url(#pS)"/><rect x="2548.3" width="68.4" height="30.5" fill="url(#pL)"/>
<rect x="2621.3" width="113.7" height="30.5" fill="#EBD0C2"/><rect x="2621.3" width="113.7" height="30.5" fill="url(#pS)"/><rect x="2621.3" width="113.7" height="30.5" fill="url(#pB)" opacity=".5"/>
<line class="ht" x1="2338" x2="2344" y1="15.2" y2="15.2"/><text class="hl" x="2332" y="21">DIS</text>
</g>
<g transform="translate(0,1798.68)">
<rect x="2345.3" width="70" height="30.5" fill="#86A9FC"/><rect x="2345.3" width="70" height="30.5" fill="url(#pR)"/><rect x="2345.3" width="70" height="30.5" fill="url(#pB)"/>
<rect x="2420.7" width="50.6" height="30.5" fill="#4F69D9"/><rect x="2420.7" width="50.6" height="30.5" fill="url(#pD)"/>
<rect x="2476.3" width="67" height="30.5" fill="#3E51C5"/><rect x="2476.3" width="67" height="30.5" fill="url(#pD)" opacity=".5"/>
<rect x="2548.3" width="68.4" height="30.5" fill="#3B4CC0"/>
<rect x="2621.3" width="113.7" height="30.5" fill="#3B4CC0"/>
<line class="ht" x1="2338" x2="2344" y1="15.2" y2="15.2"/><text class="hl" x="2332" y="21">CRIM</text>
</g>
<g transform="translate(0,1829.14)">
<rect x="2345.3" width="70" height="30.5" fill="#3B4CC0"/>
<rect x="2420.7" width="50.6" height="30.5" fill="#3B4CC0"/>
<rect x="2476.3" width="67" height="30.5" fill="#3B4CC0"/><rect x="2476.3" width="67" height="30.5" fill="url(#pB)" opacity=".35"/><rect x="2503" width="1.5" height="30.5" fill="#F4987A"/>
<rect x="2548.3" width="68.4" height="30.5" fill="#3D4FC3"/><rect x="2548.3" width="68.4" height="30.5" fill="url(#pL)" opacity=".5"/>
<rect x="2621.3" width="113.7" height="30.5" fill="#8BADFD"/><rect x="2621.3" width="113.7" height="30.5" fill="url(#pR)"/><rect x="2621.3" width="113.7" height="30.5" fill="url(#pD)"/>
<line class="ht" x1="2338" x2="2344" y1="15.2" y2="15.2"/><text class="hl" x="2332" y="21">ZN</text>
</g>
<g transform="translate(0,1859.6)">
<rect x="2345.3" width="70" height="30.5" fill="#E9785D"/>
<rect x="2420.7" width="50.6" height="30.5" fill="#E5704F"/><rect x="2420.7" width="50.6" height="30.5" fill="url(#pL)" opacity=".6"/>
<rect x="2476.3" width="67" height="30.5" fill="#E06A52"/><rect x="2476.3" width="67" height="30.5" fill="url(#pS)"/><rect x="2476.3" width="67" height="30.5" fill="url(#pL)"/>
<rect x="2548.3" width="68.4" height="30.5" fill="#F3B99F"/><rect x="2548.3" width="68.4" height="30.5" fill="url(#pS)"/><rect x="2548.3" width="68.4" height="30.5" fill="url(#pL)"/>
<rect x="2621.3" width="113.7" height="30.5" fill="#C6D6F1"/><rect x="2621.3" width="113.7" height="30.5" fill="url(#pB)"/><rect x="2621.3" width="113.7" height="30.5" fill="url(#pR)" opacity=".6"/>
<line class="ht" x1="2338" x2="2344" y1="15.2" y2="15.2"/><text class="hl" x="2332" y="21">PTRATIO</text>
</g>
<g transform="translate(0,1890.06)">
<rect x="2345.3" width="70" height="30.5" fill="#D8DCE2"/><rect x="2345.3" width="70" height="30.5" fill="url(#pB)" opacity=".5"/><rect x="2345.3" width="70" height="30.5" fill="url(#pR)" opacity=".3"/>
<rect x="2420.7" width="50.6" height="30.5" fill="#D3DBE7"/><rect x="2420.7" width="50.6" height="30.5" fill="url(#pG)"/>
<rect x="2476.3" width="67" height="30.5" fill="#CDD9EC"/><rect x="2476.3" width="67" height="30.5" fill="url(#pL)"/>
<rect x="2548.3" width="68.4" height="30.5" fill="#E3D9D3"/><rect x="2548.3" width="68.4" height="30.5" fill="url(#pS)" opacity=".4"/>
<rect x="2621.3" width="113.7" height="30.5" fill="url(#rm5)"/><rect x="2621.3" width="113.7" height="30.5" fill="url(#pL)" opacity=".3"/>
<line class="ht" x1="2338" x2="2344" y1="15.2" y2="15.2"/><text class="hl" x="2332" y="21">RM</text>
</g>
<g transform="translate(0,1920.52)">
<rect x="2345.3" width="70" height="30.5" fill="#B40426"/><rect x="2345.3" width="70" height="30.5" fill="url(#pB)" opacity=".8"/>
<rect x="2420.7" width="50.6" height="30.5" fill="#B40426"/><rect x="2420.7" width="50.6" height="30.5" fill="url(#pL)"/>
<rect x="2476.3" width="67" height="30.5" fill="#B40426"/><rect x="2476.3" width="67" height="30.5" fill="url(#pS)" opacity=".6"/>
<rect x="2548.3" width="68.4" height="30.5" fill="#B40426"/><rect x="2548.3" width="68.4" height="30.5" fill="url(#pS)" opacity=".3"/>
<rect x="2621.3" width="113.7" height="30.5" fill="#B40426"/><rect x="2621.3" width="113.7" height="30.5" fill="url(#pR)" opacity=".5"/><rect x="2621.3" width="113.7" height="30.5" fill="url(#pS)" opacity=".3"/>
<line class="ht" x1="2338" x2="2344" y1="15.2" y2="15.2"/><text class="hl" x="2332" y="21">B</text>
</g>
</g>
</svg>
